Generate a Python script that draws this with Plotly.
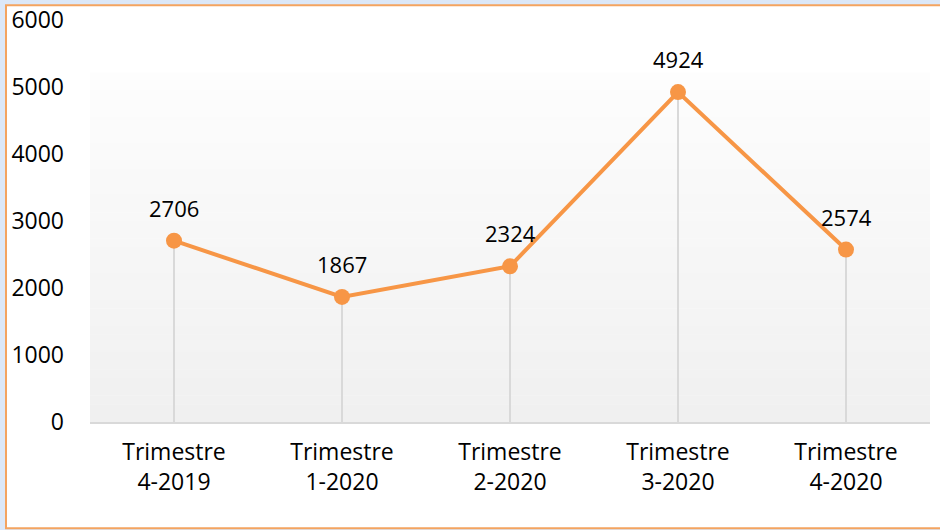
import plotly.graph_objects as go

categories = ["Trimestre<br>4-2019", "Trimestre<br>1-2020", "Trimestre<br>2-2020",
              "Trimestre<br>3-2020", "Trimestre<br>4-2020"]
values = [2706, 1867, 2324, 4924, 2574]
y_ticks = [0, 1000, 2000, 3000, 4000, 5000, 6000]

ORANGE = "#f79646"
FONT = "Open Sans"

fig = go.Figure()

# drop lines
dx, dy = [], []
for c, v in zip(categories, values):
    dx += [c, c, None]
    dy += [0, v, None]
fig.add_trace(go.Scatter(x=dx, y=dy, mode="lines",
                         line=dict(color="#d9d9d9", width=2),
                         hoverinfo="skip", showlegend=False))

fig.add_trace(go.Scatter(x=categories, y=values, mode="lines+markers",
                         line=dict(color=ORANGE, width=4),
                         marker=dict(color=ORANGE, size=16),
                         showlegend=False))

for c, v in zip(categories, values):
    fig.add_annotation(x=c, y=v, text=str(v), showarrow=False, yshift=33,
                       font=dict(family=FONT, size=22, color="#000000"))

# outer card
shapes = [dict(type="rect", xref="paper", yref="paper",
               x0=-0.1, x1=1.05, y0=-0.264, y1=1.037,
               fillcolor="white", line=dict(color="#f4a460", width=2), layer="below")]
# gradient bands in plot area
top_px, bot_px, plot_h = 73, 422, 402
n = 40
for i in range(n):
    y0p = top_px + (bot_px - top_px) * i / n
    y1p = top_px + (bot_px - top_px) * (i + 1) / n
    t = (i + 0.5) / n
    g = round(253 - (253 - 240) * t)
    shapes.append(dict(type="rect", xref="paper", yref="paper",
                       x0=0, x1=1,
                       y0=(bot_px - y1p) / plot_h, y1=(bot_px - y0p) / plot_h + 0.001,
                       fillcolor=f"rgb({g},{g},{g})", line=dict(width=0), layer="below"))

fig.update_layout(
    width=940, height=530,
    margin=dict(l=90, r=10, t=20, b=108, autoexpand=False),
    paper_bgcolor="#dce8f8",
    plot_bgcolor="rgba(0,0,0,0)",
    shapes=shapes,
    font=dict(family=FONT, size=23, color="#000000"),
    xaxis=dict(type="category", range=[-0.5, 4.5], showgrid=False,
               showline=True, linecolor="#d9d9d9", linewidth=2,
               ticks="", ticklabelstandoff=8, zeroline=False, automargin=False,
               tickfont=dict(family=FONT, size=23)),
    yaxis=dict(range=[0, 6000], tickvals=y_ticks, showgrid=False,
               showline=False, zeroline=False, ticks="", automargin=False,
               ticklabelstandoff=25, tickfont=dict(family=FONT, size=23)),
)

fig.write_html("out.html", config={"displayModeBar": False},
               post_script="document.body.style.margin='0';document.body.style.background='#dce8f8';")
